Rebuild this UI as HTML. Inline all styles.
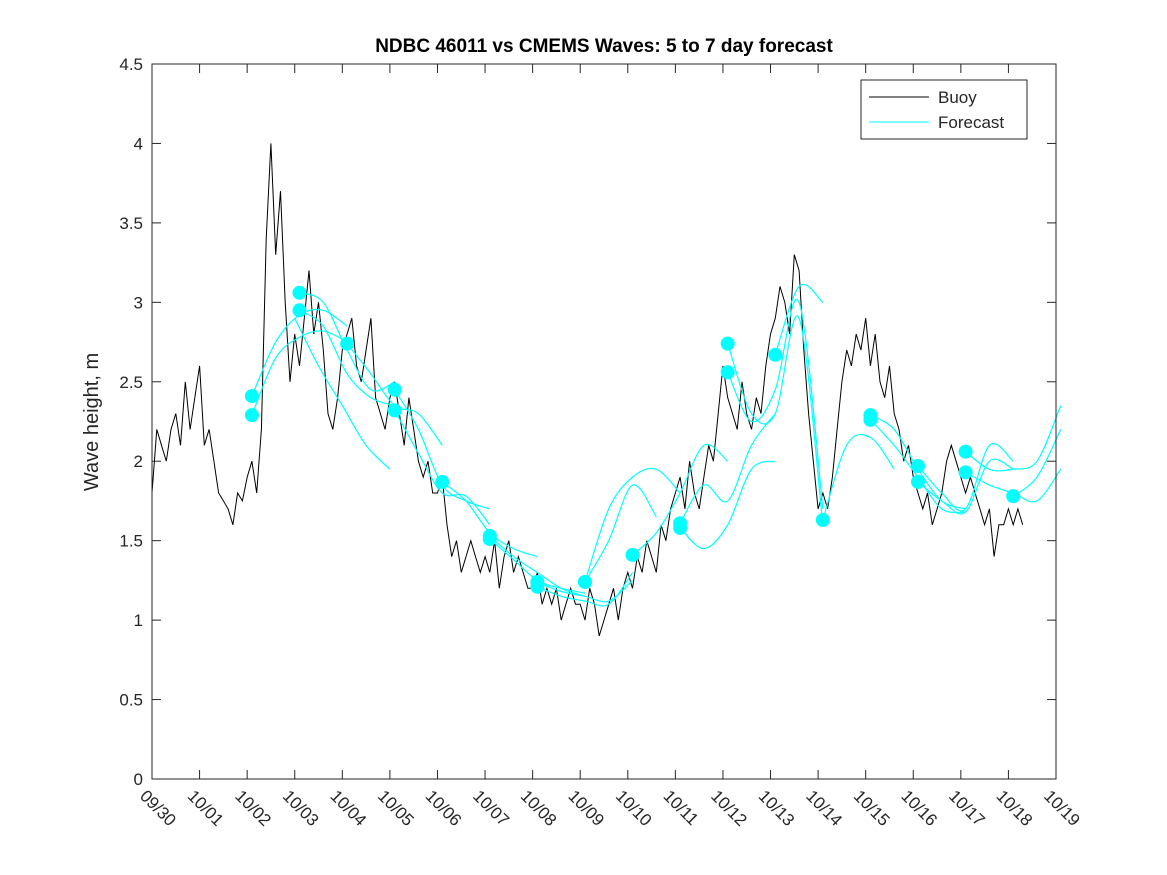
<!DOCTYPE html>
<html><head><meta charset="utf-8"><style>
body{margin:0;background:#fff;}
svg{display:block;font-family:"Liberation Sans","DejaVu Sans",sans-serif;}
</style></head><body>
<svg id="chart" width="1167" height="875" xmlns="http://www.w3.org/2000/svg">
<rect x="0" y="0" width="1167" height="875" fill="#fff"/>
<text x="604" y="52" text-anchor="middle" font-size="19" font-weight="bold" fill="#000">NDBC 46011 vs CMEMS Waves: 5 to 7 day forecast</text>
<g id="axes"></g>
<g id="series"></g>
<rect x="152" y="64" width="904" height="715" fill="none" stroke="#262626" stroke-width="1"/>
<text transform="translate(98,422) rotate(-90)" text-anchor="middle" font-size="20" fill="#262626">Wave height, m</text>
<g>
<rect x="861" y="80" width="166" height="59" fill="#fff" stroke="#262626" stroke-width="1"/>
<line x1="869" y1="97" x2="929" y2="97" stroke="#000" stroke-width="1"/>
<text x="938" y="103" font-size="17" fill="#262626">Buoy</text>
<line x1="869" y1="122" x2="929" y2="122" stroke="#00ffff" stroke-width="1"/>
<text x="938" y="128" font-size="17" fill="#262626">Forecast</text>
</g>
</svg>
<script>
const xTickLabels=["09/30","10/01","10/02","10/03","10/04","10/05","10/06","10/07","10/08","10/09","10/10","10/11","10/12","10/13","10/14","10/15","10/16","10/17","10/18","10/19"];
const yTicks=[0,0.5,1,1.5,2,2.5,3,3.5,4,4.5];
const buoyStep=0.1;
const buoyValues=[
1.8,2.2,2.1,2.0,2.2,2.3,2.1,2.5,2.2,2.4,
2.6,2.1,2.2,2.0,1.8,1.75,1.7,1.6,1.8,1.75,
1.9,2.0,1.8,2.2,3.4,4.0,3.3,3.7,3.0,2.5,
2.8,2.6,2.9,3.2,2.8,3.0,2.7,2.3,2.2,2.4,
2.7,2.8,2.9,2.6,2.5,2.7,2.9,2.4,2.3,2.2,
2.4,2.5,2.3,2.1,2.4,2.2,2.0,1.9,2.0,1.8,
1.8,1.9,1.6,1.4,1.5,1.3,1.4,1.5,1.4,1.3,
1.4,1.3,1.5,1.2,1.4,1.5,1.3,1.4,1.3,1.2,
1.2,1.3,1.1,1.2,1.1,1.2,1.0,1.1,1.2,1.1,
1.1,1.0,1.2,1.1,0.9,1.0,1.1,1.2,1.0,1.2,
1.3,1.2,1.4,1.3,1.5,1.4,1.3,1.6,1.5,1.7,
1.8,1.9,1.7,2.0,1.8,1.7,1.9,2.1,2.0,2.3,
2.6,2.4,2.3,2.2,2.5,2.3,2.2,2.4,2.3,2.6,
2.8,2.9,3.1,3.0,2.8,3.3,3.2,2.7,2.3,2.0,
1.7,1.8,1.7,1.9,2.2,2.5,2.7,2.6,2.8,2.7,
2.9,2.6,2.8,2.5,2.4,2.6,2.3,2.2,2.0,2.1,
1.9,1.8,1.7,1.8,1.6,1.7,1.8,2.0,2.1,2.0,
1.9,1.8,1.9,1.8,1.7,1.6,1.7,1.4,1.6,1.6,
1.7,1.6,1.7,1.6];
const forecastStarts=[2.1,2.1,3.1,3.1,3.0,4.1,5.1,5.1,6.1,7.1,7.1,8.1,8.1,9.1,9.1,10.1,11.1,11.1,12.1,12.1,13.1,14.1,15.1,15.1,16.1,16.1,17.1,17.1,18.1];
const forecastMarked=[1,1,1,1,0,1,1,1,1,1,1,1,1,1,1,1,1,1,1,1,1,1,1,1,1,1,1,1,1];
const forecastStep=0.5;
const forecastValues=[
[2.41,2.75,2.92,2.95,2.85],
[2.29,2.65,2.78,2.82,2.75],
[3.06,3.0,2.7,2.45,2.5],
[2.95,2.85,2.55,2.4,2.35],
[2.9,2.6,2.35,2.1,1.95],
[2.74,2.55,2.35,2.3,2.1],
[2.45,2.2,1.85,1.75,1.7],
[2.32,2.05,1.8,1.78,1.6],
[1.87,1.75,1.55,1.45,1.4],
[1.53,1.4,1.3,1.2,1.15],
[1.51,1.38,1.25,1.2,1.17],
[1.24,1.18,1.15,1.12,1.25],
[1.21,1.15,1.12,1.1,1.3],
[1.24,1.7,1.9,1.95,1.8],
[1.24,1.5,1.85,1.65],
[1.41,1.55,1.8,2.1,2.0],
[1.61,1.85,1.75,2.1,2.3],
[1.58,1.45,1.6,1.95,2.0],
[2.74,2.3,2.3,2.9,1.6],
[2.56,2.25,2.45,3.0,1.7],
[2.67,3.1,3.0],
[1.63,2.1,2.15,1.95],
[2.29,2.2,1.95,1.75,1.7],
[2.26,2.1,1.9,1.7,1.68],
[1.97,1.8,1.7,2.1,2.0],
[1.87,1.75,1.68,2.0,1.95],
[2.06,1.95,1.95,2.0,2.35],
[1.93,1.85,1.8,1.75,1.95],
[1.78,1.9,2.2]];

const NS="http://www.w3.org/2000/svg";
const X0=152,X1=1056,Y0=779,Y1=64,DAYS=19,YMAX=4.5;
function xs(d){return X0+(X1-X0)*d/DAYS;}
function ys(v){return Y0-(Y0-Y1)*v/YMAX;}
function mk(tag,attrs,parent){const e=document.createElementNS(NS,tag);for(const k in attrs)e.setAttribute(k,attrs[k]);parent.appendChild(e);return e;}
const axes=document.getElementById('axes');
const series=document.getElementById('series');
xTickLabels.forEach((lab,i)=>{
  const x=xs(i);
  const t1=mk('line',{x1:x,y1:Y0,x2:x,y2:Y0-9,stroke:'#262626'},axes);
  
  
  const t2=mk('line',{x1:x,y1:Y1,x2:x,y2:Y1+9,stroke:'#262626'},axes);
  
  
  const tx=mk('text',{transform:`translate(${x-13},${Y0+18}) rotate(45)`,'font-size':17,fill:'#262626'},axes);
  tx.textContent=lab;
  
  
});
yTicks.forEach(v=>{
  const y=ys(v);
  const t1=mk('line',{x1:X0,y1:y,x2:X0+9,y2:y,stroke:'#262626'},axes);
  
  
  const t2=mk('line',{x1:X1,y1:y,x2:X1-9,y2:y,stroke:'#262626'},axes);
  
  
  const tx=mk('text',{x:X0-9,y:y+6,'text-anchor':'end','font-size':17,fill:'#262626'},axes);
  tx.textContent=String(v);
  
  
});
let pts=buoyValues.map((v,i)=>xs(i*buoyStep).toFixed(1)+','+ys(v).toFixed(1)).join(' ');
const bl=mk('polyline',{points:pts,fill:'none',stroke:'#000','stroke-width':1},series);


function smooth(p){
  let d=`M${p[0][0]},${p[0][1]}`;
  for(let i=0;i<p.length-1;i++){
    const a=p[Math.max(i-1,0)],b=p[i],c=p[i+1],e=p[Math.min(i+2,p.length-1)];
    const c1=[b[0]+(c[0]-a[0])/6,b[1]+(c[1]-a[1])/6],c2=[c[0]-(e[0]-b[0])/6,c[1]-(e[1]-b[1])/6];
    d+=` C${c1[0]},${c1[1]} ${c2[0]},${c2[1]} ${c[0]},${c[1]}`;
  }
  return d;
}
forecastValues.forEach((vals,k)=>{
  const p=vals.map((v,i)=>[xs(forecastStarts[k]+i*forecastStep),ys(v)]);
  const path=mk('path',{d:smooth(p),fill:'none',stroke:'#00ffff','stroke-width':1.2},series);
  
  
});
forecastValues.forEach((vals,k)=>{
  if(!forecastMarked[k])return;
  const c=mk('circle',{cx:xs(forecastStarts[k]),cy:ys(vals[0]),r:7,fill:'#00ffff'},series);
  
  
});
</script>
</body></html>
